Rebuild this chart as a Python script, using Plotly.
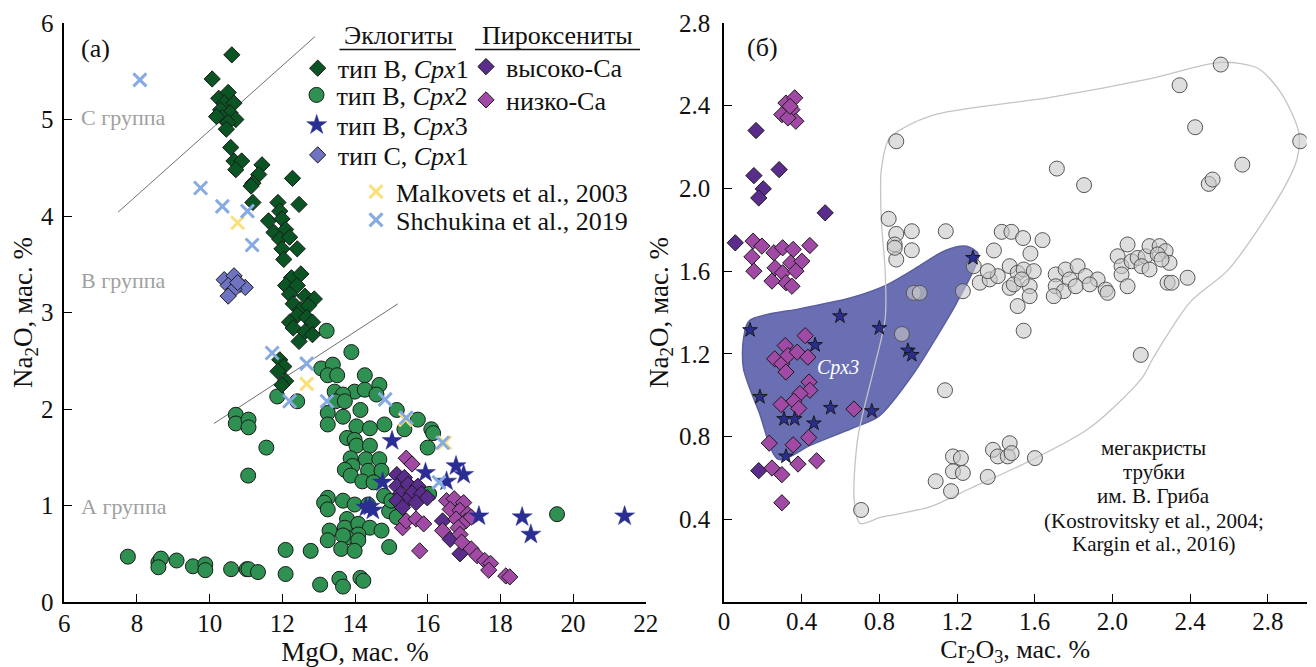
import plotly.graph_objects as go

# The page places the figure 8 px in from the top-left corner, so the figure is
# sized to the window minus that offset and all paper positions are measured in
# window pixels through px_x / py_y below.
OFF = 8
W, H = 1316 - OFF, 667 - OFF
FONT = "Liberation Serif"

# ---------------- Panel (а): MgO vs Na2O ----------------
b1_mgo = [10.61, 10.07, 10.25, 10.51, 10.40, 10.67, 10.30, 10.56, 10.72, 10.35, 10.51, 10.46, 10.19,
          10.58, 10.67, 10.88, 10.72, 11.44, 11.35, 11.19, 11.14, 12.28, 11.19, 12.46, 11.88, 11.93,
          11.62, 11.99, 11.77, 12.09, 11.93, 12.20, 11.99, 12.41, 12.04, 12.25, 12.51, 12.09, 12.41,
          12.20, 12.62, 12.88, 12.30, 12.51, 12.72, 12.41, 12.67, 12.83, 12.20, 12.30, 12.62, 12.83,
          12.46, 11.93, 12.04, 11.88, 12.09, 11.99]
b1_na = [5.67, 5.42, 5.22, 5.28, 5.17, 5.17, 5.10, 5.07, 5.00, 5.02, 4.97, 4.90, 5.03,
         4.71, 4.57, 4.57, 4.48, 4.53, 4.43, 4.34, 4.31, 4.39, 4.14, 4.12, 4.14, 4.05,
         3.95, 3.97, 3.83, 3.86, 3.76, 3.78, 3.66, 3.66, 3.55, 3.36, 3.40, 3.28, 3.28,
         3.19, 3.17, 3.14, 3.09, 3.03, 3.07, 2.97, 2.95, 2.90, 2.90, 2.84, 2.80, 2.77,
         2.70, 2.51, 2.44, 2.39, 2.29, 2.25]

b2_mgo = [13.22, 13.90, 13.07, 13.39, 13.25, 13.51, 14.27, 14.67, 13.99, 14.27, 14.59, 13.44, 13.67,
          13.46, 13.72, 11.86, 12.41, 14.15, 15.15, 15.73, 16.10, 16.15, 13.25, 13.67, 13.25, 14.04,
          14.41, 14.81, 15.36, 10.72, 10.72, 11.07, 11.07, 11.56, 11.06, 13.78, 13.99, 14.04, 14.41,
          16.00, 13.88, 14.30, 14.67, 13.93, 13.72, 14.36, 14.73, 13.88, 14.20, 14.51, 13.25, 13.15,
          13.25, 13.67, 13.99, 14.36, 14.94, 15.15, 16.04, 13.78, 13.72, 14.09, 14.41, 14.73, 14.09,
          13.77, 13.30, 13.25, 13.67, 14.09, 14.94, 13.62, 13.99, 12.09, 12.78, 19.56, 7.75, 8.59,
          8.66, 8.59, 9.09, 9.54, 9.88, 9.88, 10.59, 11.02, 11.07, 11.33, 12.09, 13.04, 13.57, 13.67,
          14.15, 14.23, 14.80, 15.00]
b2_na = [2.81, 2.59, 2.42, 2.46, 2.35, 2.35, 2.35, 2.25, 2.18, 2.20, 2.15, 2.18, 2.15,
         2.08, 2.08, 2.13, 2.08, 1.99, 1.99, 1.89, 1.79, 1.75, 1.96, 1.92, 1.84, 1.82,
         1.80, 1.84, 1.79, 1.94, 1.85, 1.89, 1.81, 1.60, 1.31, 1.70, 1.68, 1.62, 1.62,
         1.60, 1.49, 1.48, 1.48, 1.41, 1.37, 1.36, 1.36, 1.31, 1.25, 1.24, 1.08, 1.03,
         0.96, 1.05, 1.01, 1.01, 0.94, 0.88, 1.12, 0.86, 0.77, 0.81, 0.77, 0.74, 0.70,
         0.67, 0.74, 0.64, 0.69, 0.64, 0.57, 0.55, 0.53, 0.54, 0.53, 0.91, 0.47, 0.41,
         0.45, 0.36, 0.43, 0.37, 0.39, 0.33, 0.34, 0.34, 0.34, 0.31, 0.29, 0.18, 0.24, 0.16,
         0.25, 0.22, 1.10, 1.05]

b3_mgo = [15.02, 14.76, 14.41, 14.49, 14.30, 15.94, 16.52, 16.78, 16.99, 17.41, 18.60, 18.84, 21.42]
b3_na = [1.67, 1.24, 0.99, 0.95, 0.98, 1.34, 1.25, 1.41, 1.32, 0.89, 0.88, 0.70, 0.89]

c1_mgo = [10.40, 10.67, 10.83, 10.51, 10.98, 10.67, 10.51, 10.77]
c1_na = [3.34, 3.38, 3.29, 3.28, 3.26, 3.24, 3.17, 3.31]

hica_mgo = [15.15, 15.36, 15.15, 15.46, 15.73, 15.25, 15.57, 15.83, 15.41, 15.68, 15.99, 15.15, 15.31,
            16.41, 16.62, 16.89]
hica_na = [1.32, 1.29, 1.20, 1.22, 1.20, 1.12, 1.13, 1.12, 1.05, 1.03, 1.08, 1.05, 0.98,
           0.84, 0.65, 0.50]

loca_mgo = [15.41, 15.57, 15.78, 15.31, 15.41, 15.68, 15.89, 16.52, 16.73, 16.99, 16.62, 16.89, 17.10,
            16.78, 17.05, 16.84, 17.20, 16.41, 16.89, 16.94, 17.20, 17.36, 17.57, 17.73, 17.68, 18.15,
            18.26]
loca_na = [1.49, 1.43, 0.53, 0.77, 0.84, 0.86, 0.81, 1.05, 1.07, 1.03, 0.96, 0.95, 0.91,
           0.86, 0.84, 0.77, 0.88, 0.74, 0.70, 0.62, 0.55, 0.48, 0.43, 0.40, 0.33, 0.27,
           0.26]

malk_mgo = [10.77, 12.67, 15.39, 16.47]
malk_na = [3.93, 2.26, 1.89, 1.65]

shch_mgo = [8.08, 9.75, 10.35, 11.04, 11.17, 11.72, 12.67, 12.20, 13.23, 14.83, 15.41, 16.41, 16.31]
shch_na = [5.41, 4.29, 4.10, 4.05, 3.70, 2.58, 2.47, 2.08, 2.08, 2.10, 1.91, 1.65, 1.24]

# group divider lines
line1_mgo = [7.48, 12.90]
line1_na = [4.04, 5.86]
line2_mgo = [10.12, 15.18]
line2_na = [1.85, 3.09]

# ---------------- Panel (б): Cr2O3 vs Na2O ----------------
mega_cr = [2.558, 2.346, 2.426, 2.967, 0.887, 1.714, 1.854, 2.669, 2.496, 2.516, 0.848, 0.887, 0.967,
           1.142, 0.879, 0.967, 0.887, 0.879, 1.43, 1.48, 1.54, 1.64, 1.39, 1.578, 1.286, 1.317, 1.368,
           1.41, 1.358, 1.471, 1.512, 1.543, 1.595, 1.471, 1.492, 1.574, 1.533, 1.512, 1.574, 1.23,
           0.977, 1.008, 1.708, 1.759, 1.821, 1.78, 1.862, 1.924, 1.708, 1.749, 1.811, 1.883, 1.965,
           1.975, 1.698, 2.027, 2.078, 2.047, 2.099, 2.13, 2.171, 2.191, 2.243, 2.274, 2.233, 2.15,
           2.191, 2.294, 2.047, 2.078, 2.284, 2.305, 2.387, 2.253, 1.543, 0.916, 2.146, 1.138, 1.179,
           1.22, 1.179, 1.23, 1.09, 1.169, 1.385, 1.41, 1.471, 1.461, 1.481, 1.358, 1.601, 0.706]
mega_na = [2.599, 2.499, 2.296, 2.228, 2.228, 2.096, 2.016, 2.115, 2.022, 2.043, 1.853, 1.78, 1.793,
           1.793, 1.729, 1.701, 1.656, 1.713, 1.79, 1.79, 1.76, 1.75, 1.70, 1.685, 1.624, 1.544, 1.56,
           1.576, 1.6, 1.624, 1.592, 1.608, 1.6, 1.519, 1.536, 1.527, 1.56, 1.431, 1.479, 1.503,
           1.495, 1.495, 1.584, 1.608, 1.624, 1.56, 1.576, 1.56, 1.527, 1.503, 1.527, 1.536, 1.511,
           1.495, 1.479, 1.672, 1.729, 1.624, 1.648, 1.664, 1.672, 1.721, 1.721, 1.697, 1.681, 1.624,
           1.608, 1.64, 1.584, 1.527, 1.544, 1.544, 1.568, 1.656, 1.312, 1.296, 1.195, 1.024, 0.704,
           0.696, 0.632, 0.624, 0.584, 0.536, 0.736, 0.704, 0.768, 0.704, 0.72, 0.605, 0.696, 0.445]

hica_cr = [0.165, 0.154, 0.284, 0.202, 0.179, 0.521, 0.058, 0.179]
hica_na2 = [2.28, 2.062, 2.091, 1.998, 1.954, 1.882, 1.737, 0.635]

loca_cr = [0.319, 0.364, 0.350, 0.298, 0.370, 0.329, 0.340, 0.150, 0.195, 0.144, 0.154, 0.257, 0.302,
           0.356, 0.263, 0.302, 0.344, 0.319, 0.350, 0.442, 0.401, 0.247, 0.370, 0.418, 0.315, 0.261,
           0.298, 0.329, 0.377, 0.319, 0.432, 0.438, 0.442, 0.391, 0.294, 0.360, 0.385, 0.669, 0.233,
           0.356, 0.436, 0.247, 0.298, 0.381, 0.477, 0.298]
loca_na2 = [2.413, 2.438, 2.381, 2.357, 2.325, 2.341, 2.397, 1.745, 1.721, 1.669, 1.600, 1.689, 1.713,
            1.705, 1.616, 1.592, 1.640, 1.544, 1.527, 1.724, 1.648, 1.552, 1.600, 1.288, 1.240, 1.176,
            1.152, 1.192, 1.208, 1.112, 1.184, 1.064, 1.024, 1.008, 0.955, 0.971, 0.936, 0.933, 0.768,
            0.760, 0.795, 0.648, 0.616, 0.667, 0.683, 0.480]

b3_cr = [1.282, 0.597, 0.800, 0.134, 0.469, 0.947, 0.967, 0.185, 0.549, 0.761, 0.309, 0.364, 0.463, 0.319]
b3_na2 = [1.664, 1.382, 1.325, 1.315, 1.243, 1.216, 1.195, 0.992, 0.939, 0.923, 0.885, 0.885, 0.864, 0.704]

# Cpx3 field outline
field_cr = [0.13, 0.40, 0.65, 0.83, 0.98, 1.14, 1.25, 1.31, 1.20, 1.10, 0.98, 0.80, 0.66, 0.45, 0.28,
            0.18, 0.10, 0.10, 0.13]
field_na = [1.36, 1.42, 1.47, 1.53, 1.61, 1.70, 1.72, 1.68, 1.45, 1.29, 1.11, 0.90, 0.84, 0.76, 0.69,
            0.92, 1.13, 1.27, 1.36]

# megacryst envelope
env_cr = [0.70, 0.67, 0.69, 0.77, 0.83, 0.83, 0.81, 0.81, 0.85, 0.92, 1.10, 1.68, 2.19, 2.56, 2.75, 2.87,
          2.96, 2.95, 2.87, 2.60, 2.40, 2.21, 2.15, 1.88, 1.57, 1.27, 1.06, 0.81, 0.70]
env_na = [0.38, 0.50, 0.80, 1.12, 1.37, 1.60, 1.85, 2.09, 2.24, 2.29, 2.36, 2.44, 2.53, 2.61, 2.58, 2.46,
          2.27, 2.14, 1.98, 1.61, 1.45, 1.18, 1.08, 0.84, 0.68, 0.55, 0.46, 0.41, 0.38]

left_xticks = [6, 8, 10, 12, 14, 16, 18, 20, 22]
left_yticks = [0, 1, 2, 3, 4, 5, 6]
right_xticks = [0, 0.4, 0.8, 1.2, 1.6, 2.0, 2.4, 2.8]
right_xtext = ["0", "0.4", "0.8", "1.2", "1.6", "2.0", "2.4", "2.8"]
right_yticks = [0.4, 0.8, 1.2, 1.6, 2.0, 2.4, 2.8]
right_ytext = ["0.4", "0.8", "1.2", "1.6", "2.0", "2.4", "2.8"]

# ---------------- colours ----------------
C_B1 = "#0b5424"
C_B2 = "#2e9152"
C_B3 = "#2a2e92"
C_C1 = "#6e74c2"
C_HI = "#5a2c8c"
C_LO = "#a04aa6"
C_MALK = "#fbe07a"
C_SHCH = "#86abe2"

fig = go.Figure()

def px_x(p):
    return (p - OFF) / W

def py_y(p):
    return 1 - (p - OFF) / H

EDGE = dict(color="#1a1a1a", width=1)

# -------- left panel traces --------
fig.add_trace(go.Scatter(x=line1_mgo, y=line1_na, mode="lines", line=dict(color="#707070", width=1),
                         showlegend=False, hoverinfo="skip", xaxis="x", yaxis="y"))
fig.add_trace(go.Scatter(x=line2_mgo, y=line2_na, mode="lines", line=dict(color="#707070", width=1),
                         showlegend=False, hoverinfo="skip", xaxis="x", yaxis="y"))

fig.add_trace(go.Scatter(x=b2_mgo, y=b2_na, mode="markers", name="тип В, <i>Cpx</i>2",
                         marker=dict(symbol="circle", size=15, color=C_B2, line=EDGE),
                         legend="legend2", xaxis="x", yaxis="y"))
fig.add_trace(go.Scatter(x=b1_mgo, y=b1_na, mode="markers", name="тип В, <i>Cpx</i>1",
                         marker=dict(symbol="diamond", size=12.5, color=C_B1, line=EDGE),
                         legend="legend", xaxis="x", yaxis="y"))
fig.add_trace(go.Scatter(x=c1_mgo, y=c1_na, mode="markers", name="тип С, <i>Cpx</i>1",
                         marker=dict(symbol="diamond", size=12.5, color=C_C1, line=EDGE),
                         legend="legend4", xaxis="x", yaxis="y"))
fig.add_trace(go.Scatter(x=hica_mgo, y=hica_na, mode="markers", name="высоко-Са",
                         marker=dict(symbol="diamond", size=12.5, color=C_HI, line=EDGE),
                         legend="legend5", xaxis="x", yaxis="y"))
fig.add_trace(go.Scatter(x=loca_mgo, y=loca_na, mode="markers", name="низко-Са",
                         marker=dict(symbol="diamond", size=12.5, color=C_LO, line=EDGE),
                         legend="legend6", xaxis="x", yaxis="y"))
fig.add_trace(go.Scatter(x=b3_mgo, y=b3_na, mode="markers", name="тип В, <i>Cpx</i>3",
                         marker=dict(symbol="star", size=15, color=C_B3, line=dict(color=C_B3, width=0.5)),
                         legend="legend3", xaxis="x", yaxis="y"))
fig.add_trace(go.Scatter(x=malk_mgo, y=malk_na, mode="markers", name="Malkovets et al., 2003",
                         marker=dict(symbol="x-thin", size=13, color=C_MALK, line=dict(color=C_MALK, width=3)),
                         legend="legend7", xaxis="x", yaxis="y"))
fig.add_trace(go.Scatter(x=shch_mgo, y=shch_na, mode="markers", name="Shchukina et al., 2019",
                         marker=dict(symbol="x-thin", size=13, color=C_SHCH, line=dict(color=C_SHCH, width=3)),
                         legend="legend8", xaxis="x", yaxis="y"))

# -------- right panel traces --------
fig.add_trace(go.Scatter(x=field_cr, y=field_na, mode="lines", fill="toself", fillcolor="#6a6fb3",
                         line=dict(color="#5b5fa0", width=1.5, shape="spline", smoothing=0.8),
                         showlegend=False, hoverinfo="skip", xaxis="x2", yaxis="y2"))
fig.add_trace(go.Scatter(x=env_cr, y=env_na, mode="lines",
                         line=dict(color="#c4c4c4", width=1.3, shape="spline", smoothing=0.8),
                         showlegend=False, hoverinfo="skip", xaxis="x2", yaxis="y2"))
fig.add_trace(go.Scatter(x=mega_cr, y=mega_na, mode="markers",
                         marker=dict(symbol="circle", size=15, color="rgba(200,200,200,0.6)",
                                     line=dict(color="#555555", width=1)),
                         showlegend=False, xaxis="x2", yaxis="y2"))
fig.add_trace(go.Scatter(x=hica_cr, y=hica_na2, mode="markers",
                         marker=dict(symbol="diamond", size=12.5, color=C_HI, line=EDGE),
                         showlegend=False, xaxis="x2", yaxis="y2"))
fig.add_trace(go.Scatter(x=loca_cr, y=loca_na2, mode="markers",
                         marker=dict(symbol="diamond", size=12.5, color=C_LO, line=EDGE),
                         showlegend=False, xaxis="x2", yaxis="y2"))
fig.add_trace(go.Scatter(x=b3_cr, y=b3_na2, mode="markers",
                         marker=dict(symbol="star", size=11, color=C_B3, line=EDGE),
                         showlegend=False, xaxis="x2", yaxis="y2"))

# -------- axes --------
axis_common = dict(showline=True, linecolor="black", linewidth=1.5, ticks="inside", ticklen=8,
                   tickwidth=1.2, tickcolor="black", showgrid=False, zeroline=False, mirror=False,
                   tickfont=dict(family=FONT, size=25, color="#111"), automargin=False,
                   ticklabeloverflow="allow")
TITLE_FONT = dict(family=FONT, size=27, color="#111")
ydom = [py_y(602), py_y(23)]

fig.update_layout(
    width=W, height=H, margin=dict(l=0, r=0, t=0, b=0),
    paper_bgcolor="white", plot_bgcolor="white",
    font=dict(family=FONT, size=25, color="#111"),
    xaxis=dict(domain=[px_x(64.3), px_x(645.7)], range=[6, 22], tickvals=left_xticks, anchor="y",
               title=dict(text="MgO, мас. %", standoff=3, font=TITLE_FONT), ticklabelstandoff=-2,
               **axis_common),
    yaxis=dict(domain=ydom, range=[0, 6], tickvals=left_yticks, anchor="x",
               title=dict(text="Na<sub>2</sub>O, мас. %", standoff=6, font=TITLE_FONT), ticklabelstandoff=4,
               **axis_common),
    xaxis2=dict(domain=[px_x(724), px_x(1306.6)], range=[0, 3.0], tickvals=right_xticks,
                ticktext=right_xtext, anchor="y2",
                title=dict(text="Cr<sub>2</sub>O<sub>3</sub>, мас. %", standoff=5,
                           font=dict(family=FONT, size=26, color="#111")),
                ticklabelstandoff=-4, **axis_common),
    yaxis2=dict(domain=ydom, range=[0, 2.8], tickvals=right_yticks, ticktext=right_ytext, anchor="x2",
                title=dict(text="Na<sub>2</sub>O, мас. %", standoff=3, font=TITLE_FONT), ticklabelstandoff=7,
                **axis_common),
)

# -------- legends (one per item, positioned like the reference key) --------
def legend_at(marker_px, center_py):
    return dict(x=px_x(marker_px - 24), y=py_y(center_py), xanchor="left", yanchor="middle",
                bgcolor="rgba(0,0,0,0)", borderwidth=0, font=dict(family=FONT, size=26, color="#111"),
                itemclick=False, itemdoubleclick=False)

fig.update_layout(
    legend=legend_at(321.7, 68.3),
    legend2=legend_at(320.5, 95),
    legend3=legend_at(320.7, 125),
    legend4=legend_at(321.7, 155),
    legend5=legend_at(490, 66.7),
    legend6=legend_at(490, 100),
    legend7=legend_at(380, 191.7),
    legend8=legend_at(380, 220),
)

# headers with underline
fig.add_annotation(text="Эклогиты", x=px_x(398.4), y=py_y(36), xref="paper", yref="paper",
                   showarrow=False, xanchor="center", yanchor="middle", font=dict(size=26, family=FONT))
fig.add_annotation(text="Пироксениты", x=px_x(557.5), y=py_y(36), xref="paper", yref="paper",
                   showarrow=False, xanchor="center", yanchor="middle", font=dict(size=26, family=FONT))
fig.add_shape(type="line", xref="paper", yref="paper", x0=px_x(339.5), x1=px_x(456), y0=py_y(49.5),
              y1=py_y(49.5), line=dict(color="#111", width=1.3))
fig.add_shape(type="line", xref="paper", yref="paper", x0=px_x(475), x1=px_x(640), y0=py_y(49.5),
              y1=py_y(49.5), line=dict(color="#111", width=1.3))

# panel labels & texts
fig.add_annotation(text="(а)", x=6.40, y=5.74, xref="x", yref="y", showarrow=False, xanchor="left",
                   yanchor="middle", font=dict(size=26, family=FONT))
for label, yv in [("С группа", 5.02), ("В группа", 3.33), ("А группа", 0.99)]:
    fig.add_annotation(text=label, x=6.40, y=yv, xref="x", yref="y", showarrow=False, xanchor="left",
                       yanchor="middle", font=dict(size=22, family=FONT, color="#a0a0a0"))

fig.add_annotation(text="(б)", x=0.11, y=2.68, xref="x2", yref="y2", showarrow=False, xanchor="left",
                   yanchor="middle", font=dict(size=26, family=FONT))
fig.add_annotation(text="<i>Cpx3</i>", x=0.586, y=1.136, xref="x2", yref="y2", showarrow=False,
                   xanchor="center", yanchor="middle", font=dict(size=20, family=FONT, color="white"))
for txt, yv in [("мегакристы", 0.744), ("трубки", 0.629), ("им. В. Гриба", 0.512),
                ("(Kostrovitsky et al., 2004;", 0.392), ("Kargin et al., 2016)", 0.280)]:
    fig.add_annotation(text=txt, x=2.212, y=yv, xref="x2", yref="y2", showarrow=False,
                       xanchor="center", yanchor="middle", font=dict(size=21, family=FONT))

fig.write_html("out.html")
